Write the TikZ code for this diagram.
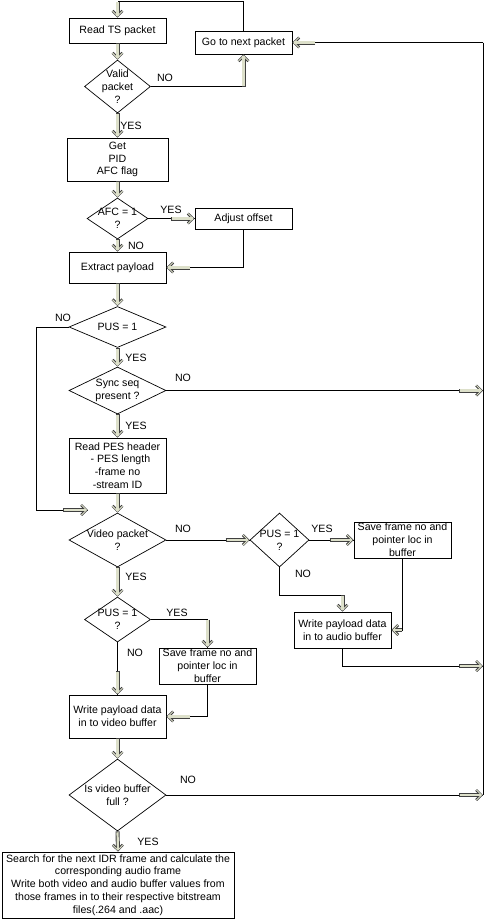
\documentclass[tikz,border=0pt]{standalone}
\usepackage{fontspec}
\setmainfont{Liberation Sans}
\usetikzlibrary{shapes.geometric,arrows.meta,calc}
\definecolor{shaft}{HTML}{DDE0CA}
\begin{document}
\begin{tikzpicture}[x=1pt,y=-1pt,
  font=\fontsize{10.6}{12.8}\selectfont,
  box/.style={draw, line width=0.8pt, align=center, inner sep=0pt},
  dec/.style={draw, diamond, line width=0.7pt, inner sep=0pt},
  flow/.style={line width=0.8pt},
  pipe/.style={draw=black!75, line width=4pt,
    -{Straight Barb[length=5pt,width=10pt,line width=2.6pt]},
    postaction={draw=shaft, line width=2.2pt, shorten <=0.9pt, shorten >=0.9pt,
      -{Straight Barb[length=5pt,width=10pt,line width=0.9pt]}}}]
\useasboundingbox (0,0) rectangle (484,919);

% main column
\node[box, minimum width=97, minimum height=25] (read) at (117.5,30.5) {Read TS packet};
\node[box, minimum width=97, minimum height=23] (next) at (243.5,42.5) {Go to next packet};
\node[dec, minimum width=66, minimum height=53, label={[align=center]center:{Valid\\packet\\?}}] (valid) at (117.5,86.5) {};
\node[box, minimum width=101, minimum height=43] (getpid) at (117.5,159.5) {Get\\PID\\AFC flag};
\node[dec, minimum width=61, minimum height=41, label={[align=center]center:{AFC = 1\\?}}] (afc) at (117.5,218.5) {};
\node[box, minimum width=97, minimum height=21] (adjust) at (243.5,218.5) {Adjust offset};
\node[box, minimum width=97, minimum height=31] (extract) at (117.5,267.5) {Extract payload};
\node[dec, minimum width=97, minimum height=41, label={[align=center]center:{PUS = 1}}] (pus) at (117.5,327) {};
\node[dec, minimum width=97, minimum height=47, label={[align=center]center:{Sync seq\\present ?}}] (sync) at (117.5,390.5) {};
\node[box, minimum width=97, minimum height=55] (pes) at (117.5,465.5) {Read PES header\\\ \ - PES length\\-frame no\\-stream ID};
\node[dec, minimum width=97, minimum height=54, label={[align=center]center:{Video packet\\?}}] (video) at (117.5,540) {};

% audio branch
\node[dec, minimum width=59, minimum height=54, label={[align=center]center:{PUS = 1\\?}}] (pusa) at (279.5,540) {};
\node[box, minimum width=97, minimum height=36] (savea) at (402.5,540) {Save frame no and\\pointer loc in\\buffer};
\node[box, minimum width=97, minimum height=36] (audio) at (342.5,630) {Write payload data\\in to audio buffer};

% video branch
\node[dec, minimum width=66, minimum height=45, label={[align=center]center:{PUS = 1\\?}}] (pusv) at (117.5,619.5) {};
\node[box, minimum width=97, minimum height=36] (savev) at (207.5,666) {Save frame no and\\pointer loc in\\buffer};
\node[box, minimum width=97, minimum height=43] (write) at (117.5,716.5) {Write payload data\\in to video buffer};
\node[dec, minimum width=97, minimum height=72, label={[align=center]center:{Is video buffer\\full ?}}] (full) at (117.5,795) {};
\node[box, minimum width=232, minimum height=66] (search) at (118,885) {Search for the next IDR frame and calculate the\\corresponding audio frame\\Write both video and audio buffer values from\\those frames in to their respective bitstream\\files(.264 and .aac)};

% helper points
\coordinate (rail) at (483,0);
\coordinate (top) at (117.5,1.5);
\coordinate (back) at (88,510);
\coordinate (loop) at (36,0);
\coordinate (ka) at (342.5,595);
\coordinate (au) at (483,666);

% labels
\node (y1) at (131,126) {YES};
\node (n1) at (165,78) {NO};
\node (y2) at (171,210) {YES};
\node (n2) at (136,246) {NO};
\node (n3) at (63,318) {NO};
\node (y3) at (136,358) {YES};
\node (n4) at (183,378) {NO};
\node (y4) at (136,426) {YES};
\node (n5) at (183,529) {NO};
\node (y5) at (322,529) {YES};
\node (n6) at (303,574) {NO};
\node (y6) at (136,577) {YES};
\node (y7) at (177,613) {YES};
\node (n7) at (135,653) {NO};
\node (n8) at (188,780) {NO};
\node (y8) at (148,842) {YES};

% connectors
\draw[flow] (next.north) |- (top);
\draw[pipe] (top) -- (read.north);
\draw[pipe] (read.south) -- (valid.north);
\draw[flow] (valid.east) -| (next.south);
\draw[pipe] (valid.east -| next.south) -- (next.south);
\draw[flow] (next.east -| rail) -- (next.east);
\draw[pipe] ($(next.east)+(23,0)$) -- (next.east);
\draw[flow] (next.east -| rail) -- (full.east -| rail);
\draw[pipe] (valid.south) -- (getpid.north);
\draw[pipe] (getpid.south) -- (afc.north);
\draw[flow] (afc.east) -- (adjust.west);
\draw[pipe] ($(adjust.west)+(-24,0)$) -- (adjust.west);
\draw[pipe] (afc.south) -- (extract.north);
\draw[flow] (adjust.south) |- (extract.east);
\draw[pipe] ($(extract.east)+(24,0)$) -- (extract.east);
\draw[pipe] (extract.south) -- (pus.north);
\draw[flow] (pus.west) -| (loop |- back) -- (back);
\draw[pipe] ($(back)+(-25,0)$) -- (back);
\draw[pipe] (pus.south) -- (sync.north);
\draw[flow] (sync.east) -- (sync.east -| rail);
\draw[pipe] ($(sync.east -| rail)+(-24,0)$) -- (sync.east -| rail);
\draw[pipe] (sync.south) -- (pes.north);
\draw[pipe] (pes.south) -- (video.north);
\draw[flow] (video.east) -- (pusa.west);
\draw[pipe] ($(pusa.west)+(-24,0)$) -- (pusa.west);
\draw[flow] (pusa.east) -- (savea.west);
\draw[pipe] ($(savea.west)+(-24,0)$) -- (savea.west);
\draw[flow] (pusa.south) |- (ka);
\draw[pipe] (ka) -- (audio.north);
\draw[flow] (savea.south) |- (audio.east);
\draw[pipe] ($(audio.east)+(11,0)$) -- (audio.east);
\draw[flow] (audio.south) |- (au);
\draw[pipe] ($(au)+(-24,0)$) -- (au);
\draw[pipe] (video.south) -- (pusv.north);
\draw[flow] (pusv.east) -| (savev.north);
\draw[pipe] (pusv.east -| savev.north) -- (savev.north);
\draw[flow] (pusv.south) -- (write.north);
\draw[pipe] ($(write.north)+(0,-24)$) -- (write.north);
\draw[flow] (savev.south) |- (write.east);
\draw[pipe] ($(write.east)+(24,0)$) -- (write.east);
\draw[pipe] (write.south) -- (full.north);
\draw[flow] (full.east) -- (full.east -| rail);
\draw[pipe] ($(full.east -| rail)+(-24,0)$) -- (full.east -| rail);
\draw[pipe] (full.south) -- (search.north);
\end{tikzpicture}
\end{document}
